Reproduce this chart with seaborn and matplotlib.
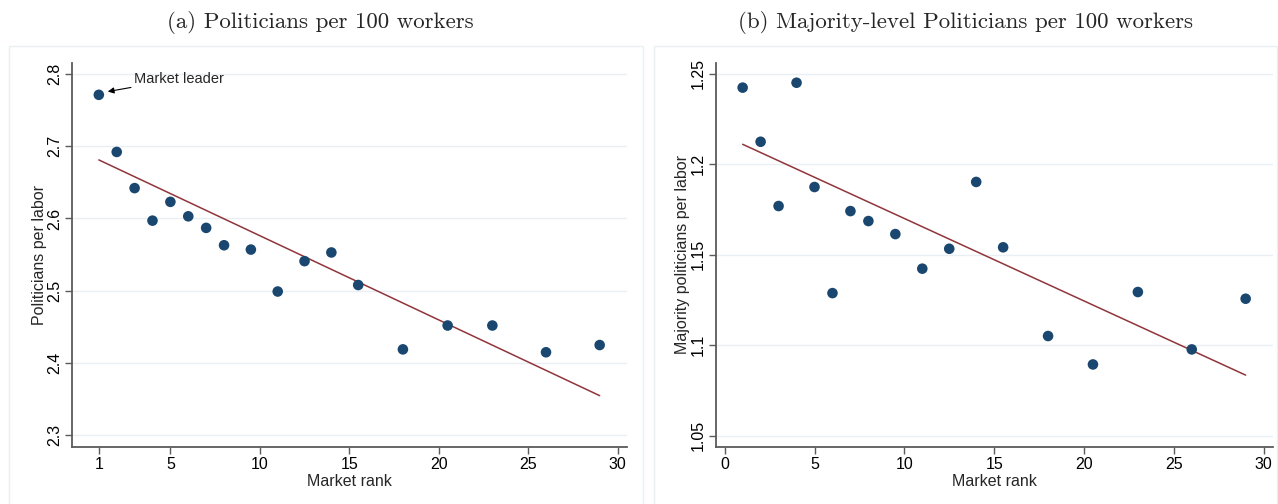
import numpy as np
import pandas as pd
import seaborn as sns
import matplotlib.pyplot as plt
from matplotlib.patches import Rectangle

# Market rank of each firm bin (shared by both panels)
market_rank = [1, 2, 3, 4, 5, 6, 7, 8, 9.5, 11, 12.5, 14, 15.5, 18, 20.5, 23, 26, 29]

# Politicians per labor (all politicians), bin means
politicians_per_labor = [2.771, 2.692, 2.642, 2.597, 2.623, 2.603, 2.587, 2.563, 2.557,
                         2.499, 2.541, 2.553, 2.508, 2.419, 2.452, 2.452, 2.415, 2.425]

# Majority-level politicians per labor, bin means
majority_per_labor = [1.2423, 1.2124, 1.1769, 1.2450, 1.1874, 1.1288, 1.1741, 1.1686, 1.1614,
                      1.1423, 1.1533, 1.1902, 1.1541, 1.1051, 1.0894, 1.1294, 1.0977, 1.1257]

# Linear fit estimated on the underlying firm-level data: value at first and last rank
fit_rank = [1, 29]
fit_politicians = [2.681, 2.355]
fit_majority = [1.211, 1.0835]

titles = ["(a) Politicians per 100 workers",
          "(b) Majority-level Politicians per 100 workers"]
ylabels = ["Politicians per labor", "Majority politicians per labor"]
xticks = [[1, 5, 10, 15, 20, 25, 30], [0, 5, 10, 15, 20, 25, 30]]
yticks = [[2.3, 2.4, 2.5, 2.6, 2.7, 2.8], [1.05, 1.1, 1.15, 1.2, 1.25]]
ytick_labels = [["2.3", "2.4", "2.5", "2.6", "2.7", "2.8"],
                ["1.05", "1.1", "1.15", "1.2", "1.25"]]

df = pd.DataFrame({"rank": market_rank,
                   "pol": politicians_per_labor,
                   "maj": majority_per_labor})
fit_df = pd.DataFrame({"rank": fit_rank,
                       "pol": fit_politicians,
                       "maj": fit_majority})

sns.set_style("white")
plt.rcParams["font.family"] = ["Liberation Sans", "DejaVu Sans"]

NAVY = "#1a476f"
MAROON = "#90353b"
AXIS_GRAY = "#5b5b5b"
GRID = "#e9eff2"
FRAME = "#eaeff1"

fig = plt.figure(figsize=(12.78, 5.04), dpi=100)
W, H = 1278, 504

# graph-region frames
for x0, x1 in [(9, 643), (654, 1277)]:
    fig.add_artist(Rectangle((x0 / W, -0.05), (x1 - x0) / W, 1.05 - 46 / H,
                             transform=fig.transFigure, fill=False,
                             edgecolor=FRAME, linewidth=1.0))

axes_px = [(72, 626.5), (715.7, 1272.6)]
ylims = [(2.284, 2.815), (1.0438, 1.2559)]
cols = ["pol", "maj"]
title_x = [320, 965]
ylabel_pad = [0, 1]

for i in range(2):
    l, r = axes_px[i]
    ax = fig.add_axes([l / W, 1 - 447 / H, (r - l) / W, (447 - 63) / H])
    ax.set_xlim(-0.5, 30.5)
    ax.set_ylim(*ylims[i])
    ax.set_yticks(yticks[i])
    ax.set_yticklabels(ytick_labels[i])
    ax.set_xticks(xticks[i])
    ax.grid(axis="y", color=GRID, linewidth=1.0)
    ax.set_axisbelow(True)

    sns.lineplot(data=fit_df, x="rank", y=cols[i], ax=ax, color=MAROON,
                 linewidth=1.1, zorder=2)
    sns.scatterplot(data=df, x="rank", y=cols[i], ax=ax, color=NAVY, s=58,
                    edgecolor="none", zorder=3)

    for side in ["top", "right"]:
        ax.spines[side].set_visible(False)
    for side in ["left", "bottom"]:
        ax.spines[side].set_color(AXIS_GRAY)
        ax.spines[side].set_linewidth(1.3)

    ax.tick_params(axis="both", direction="out", length=5, width=1.0,
                   color=AXIS_GRAY, labelsize=11.5, labelcolor="black",
                   left=True, bottom=True)
    ax.tick_params(axis="y", pad=2)
    ax.tick_params(axis="x", pad=2)
    for lab in ax.get_yticklabels():
        lab.set_rotation(90)
        lab.set_va("center")
        lab.set_ha("right")
    ax.set_xlabel("Market rank", fontsize=11.5, labelpad=2)
    ax.set_ylabel(ylabels[i], fontsize=11.5, labelpad=ylabel_pad[i])

    fig.text(title_x[i] / W, 1 - 22 / H, titles[i], ha="center", va="center",
             fontsize=16.5, family="cmr10")

    if i == 0:
        ax.annotate("Market leader", xy=(1.5, 2.7755), xytext=(2.98, 2.793),
                    fontsize=10.5, va="center", ha="left",
                    arrowprops=dict(arrowstyle="-|>", color="black", lw=0.8,
                                    mutation_scale=9, shrinkA=0, shrinkB=0))

fig.savefig("out.png", dpi=100)
